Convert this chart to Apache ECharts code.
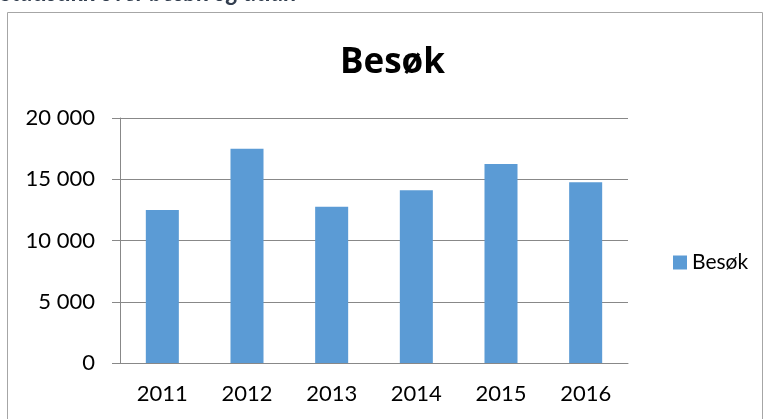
<!DOCTYPE html>
<html>
<head>
<meta charset="utf-8">
<script src="https://cdn.jsdelivr.net/npm/echarts@6/dist/echarts.min.js"></script>
<style>
    html, body { margin: 0; padding: 0; background: #fff; }
    #chart { width: 764px; height: 419px; }
</style>
</head>
<body>
<div id="chart"></div>
<script>
    // data
    const years = ['2011', '2012', '2013', '2014', '2015', '2016'];
    const visits = [12500, 17500, 12750, 14100, 16250, 14750];
    const seriesName = 'Besøk';

    const font = 'Lato, "Open Sans", sans-serif';

    const myChart = echarts.init(document.getElementById('chart'));
    const option = {
        animation: false,
        textStyle: { fontFamily: font },
        title: {
            text: 'Besøk',
            left: 335,
            top: 41,
            textStyle: { fontSize: 35, fontWeight: 'bold', color: '#000', fontFamily: '"Open Sans", sans-serif' }
        },
        graphic: [
            {
                type: 'text',
                left: 0,
                top: -19,
                style: {
                    text: 'Statistikk over besøk og utlån',
                    fontSize: 24,
                    fontWeight: 'bold',
                    fontStyle: 'italic',
                    fill: '#323E4F',
                    fontFamily: font
                }
            },
            {
                type: 'rect',
                shape: { x: 7.5, y: 12.5, width: 755, height: 420 },
                style: { fill: 'none', stroke: '#a6a6a6', lineWidth: 1 }
            }
        ],
        legend: {
            data: [seriesName],
            orient: 'vertical',
            left: 668,
            top: 247,
            icon: 'rect',
            itemWidth: 14,
            itemHeight: 14,
            textStyle: { fontSize: 21, color: '#000', fontFamily: font }
        },
        grid: {
            left: 120,
            right: 136,
            top: 118,
            bottom: 56
        },
        xAxis: {
            type: 'category',
            data: years,
            axisLine: { lineStyle: { color: '#888', width: 1 } },
            axisTick: { length: 8, lineStyle: { color: '#888' } },
            axisLabel: { fontSize: 22, color: '#000', margin: 20, fontFamily: font }
        },
        yAxis: {
            type: 'value',
            min: 0,
            max: 20000,
            interval: 5000,
            axisLine: { show: true, lineStyle: { color: '#888', width: 1 } },
            axisTick: { show: true, length: 8, lineStyle: { color: '#888' } },
            splitLine: { lineStyle: { color: '#888', width: 1 } },
            axisLabel: {
                fontSize: 22,
                color: '#000',
                margin: 25,
                fontFamily: font,
                formatter: v => String(v).replace(/\B(?=(\d{3})+(?!\d))/g, ' ')
            }
        },
        series: [
            {
                name: seriesName,
                type: 'bar',
                data: visits,
                barWidth: '39%',
                itemStyle: { color: '#5B9BD5' }
            }
        ]
    };

    myChart.setOption(option);
</script>
</body>
</html>
